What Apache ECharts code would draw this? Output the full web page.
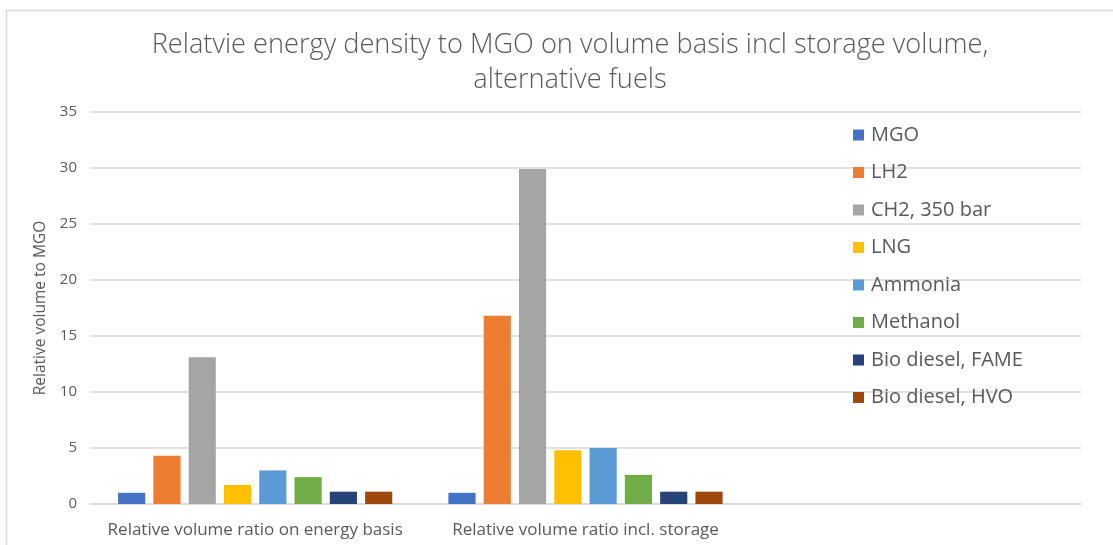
<!DOCTYPE html>
<html>
<head>
<meta charset="utf-8">
<script src="https://cdn.jsdelivr.net/npm/echarts@6/dist/echarts.min.js"></script>
<style>
  html, body { margin: 0; padding: 0; background: #ffffff; }
  #chart { width: 1113px; height: 545px; }
</style>
</head>
<body>
<div id="chart"></div>
<script>
// Categories on the x axis (third slot is left empty, as in the original sheet)
const categories = ['Relative volume ratio on energy basis', 'Relative volume ratio incl. storage', ''];

// Fuel series names and their relative volumes to MGO
const fuelNames = ['MGO', 'LH2', 'CH2, 350 bar', 'LNG', 'Ammonia', 'Methanol', 'Bio diesel, FAME', 'Bio diesel, HVO'];
const mgo      = [1.0, 1.0];
const lh2      = [4.3, 16.8];
const ch2      = [13.1, 29.9];
const lng      = [1.7, 4.8];
const ammonia  = [3.0, 5.0];
const methanol = [2.4, 2.6];
const fame     = [1.1, 1.1];
const hvo      = [1.1, 1.1];

const yTicks = { min: 0, max: 35, interval: 5 };

const seriesValues = [mgo, lh2, ch2, lng, ammonia, methanol, fame, hvo];
const palette = ['#4472C4', '#ED7D31', '#A5A5A5', '#FFC000', '#5B9BD5', '#70AD47', '#264478', '#9E480E'];

const textColor = '#595959';
const fontFamily = '"Open Sans", Lato, "Noto Sans", sans-serif';

const chart = echarts.init(document.getElementById('chart'), null, { renderer: 'canvas' });

chart.setOption({
  animation: false,
  backgroundColor: '#ffffff',
  color: palette,
  textStyle: { fontFamily: fontFamily },
  graphic: [
    // outer chart frame (left and top edges)
    { type: 'polyline', silent: true, z: -1,
      shape: { points: [[6.5, 545], [6.5, 10.5], [1113, 10.5]] },
      style: { stroke: '#d9d9d9', lineWidth: 1.5, fill: null } }
  ],
  title: {
    text: 'Relatvie energy density to MGO on volume basis incl storage volume,\nalternative fuels',
    left: 565,
    top: 23,
    textAlign: 'center',
    textStyle: {
      color: textColor,
      fontSize: 27.2,
      fontWeight: 300,
      fontFamily: fontFamily,
      lineHeight: 35
    }
  },
  legend: {
    orient: 'vertical',
    left: 848,
    top: 120,
    itemWidth: 11,
    itemHeight: 11,
    itemGap: 17.5,
    icon: 'rect',
    data: fuelNames,
    textStyle: { color: textColor, fontSize: 20, fontFamily: fontFamily, padding: [0, 0, 0, 2] }
  },
  grid: {
    left: 90,
    right: 32,
    top: 112,
    bottom: 41,
    containLabel: false
  },
  xAxis: {
    type: 'category',
    data: categories,
    axisLine: { show: true, lineStyle: { color: '#d9d9d9', width: 1.5 } },
    axisTick: { show: false },
    axisLabel: { color: textColor, fontSize: 17, margin: 18, fontFamily: fontFamily, interval: 0 }
  },
  yAxis: {
    type: 'value',
    min: yTicks.min,
    max: yTicks.max,
    interval: yTicks.interval,
    name: 'Relative volume to MGO',
    nameLocation: 'middle',
    nameGap: 41,
    nameTextStyle: { color: textColor, fontSize: 15.5, fontFamily: fontFamily },
    axisLine: { show: false },
    axisTick: { show: false },
    axisLabel: { color: textColor, fontSize: 15, margin: 13, fontFamily: fontFamily },
    splitLine: { show: true, lineStyle: { color: '#d9d9d9', width: 1.5 } }
  },
  series: fuelNames.map((name, i) => ({
    name: name,
    type: 'bar',
    data: seriesValues[i],
    barGap: '30%',
    barCategoryGap: '17%',
    itemStyle: { color: palette[i] }
  }))
});
</script>
</body>
</html>
